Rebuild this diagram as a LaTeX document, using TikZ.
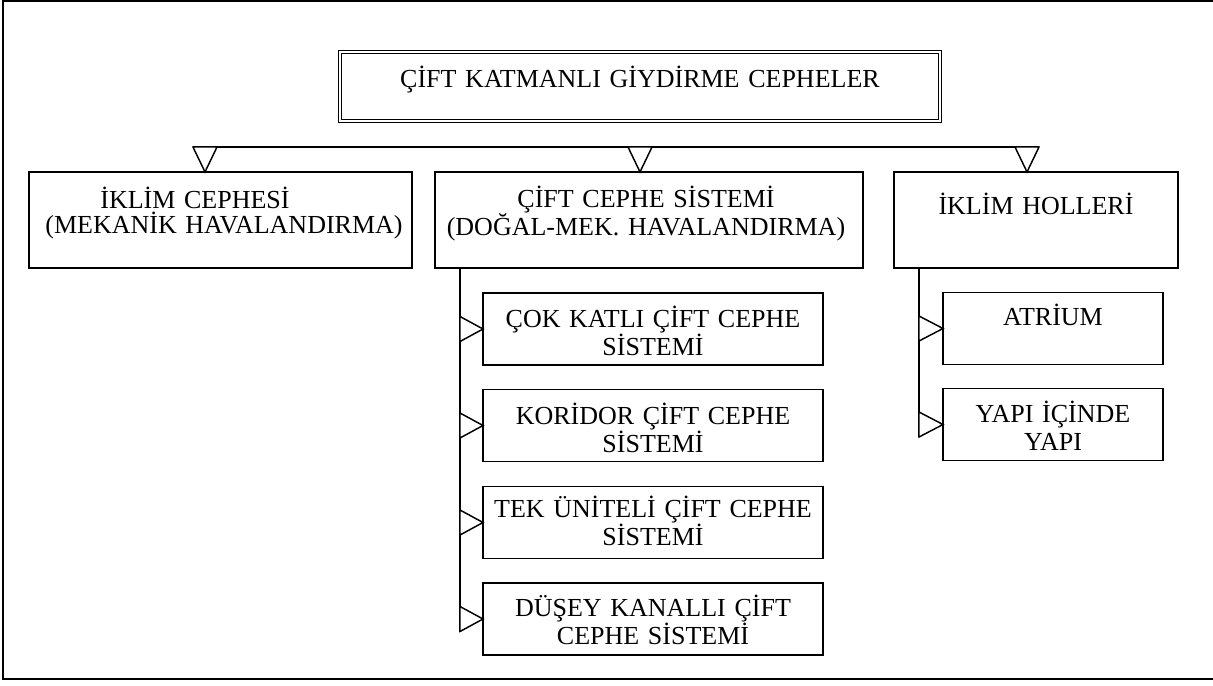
\documentclass[tikz,border=0pt]{standalone}
\usepackage{fontspec}
\setmainfont{Liberation Serif}
\usetikzlibrary{calc}
\begin{document}
\lineskiplimit=-50pt\relax
\begin{tikzpicture}[x=0.75pt,y=-0.75pt,
  box/.style={draw, line width=1.1pt, inner sep=0pt, outer sep=0pt},
  titlebox/.style={draw, line width=0.8pt, double, double distance=1.7pt, inner sep=0pt, outer sep=0pt,
    minimum width=449.7pt, minimum height=51.45pt},
  mainbox/.style={box, minimum height=72pt},
  subbox/.style={box, minimum height=54pt},
  tri/.style={draw, line width=1.1pt, fill=white, line join=miter},
  bus/.style={line width=1.1pt},
  lbl/.style={anchor=base, inner sep=0pt, outer sep=0pt, text width=#1, align=center,
    font=\fontsize{19.5pt}{18.75pt}\selectfont},
  sublbl/.style={lbl=#1, font=\fontsize{19.5pt}{21pt}\selectfont}
]
\useasboundingbox (0,0) rectangle (1213,685);
% outer frame
\draw[line width=1.1pt] (1214,1) -- (3,1) -- (3,679) -- (1214,679);

% boxes
\node[titlebox] (top) at (640,86.5) {};
\node[mainbox, minimum width=287.25pt] (b1) at (220.5,220) {};
\node[mainbox, minimum width=321pt] (b2) at (649,220) {};
\node[mainbox, minimum width=213pt] (b3) at (1036,220) {};

\node[subbox, minimum width=255pt] (sa) at (653,329) {};
\node[subbox, minimum width=255pt] (sb) at (653,425.5) {};
\node[subbox, minimum width=255pt] (sc) at (653,522.5) {};
\node[subbox, minimum width=255pt] (sd) at (653,619) {};

\node[subbox, minimum width=165pt] (se) at (1053,328.5) {};
\node[subbox, minimum width=165pt] (sf) at (1053,424.5) {};

% texts
\node[lbl=440pt] (t0) at ($(top.center)+(0,1.5)$) {ÇİFT KATMANLI GİYDİRME CEPHELER};
\node[lbl=280pt] (t1) at ($(b1.north)+(3.5,36)$) {İKLİM CEPHESİ\rule{43.5pt}{0pt}\\(MEKANİK HAVALANDIRMA)};
\node[lbl=310pt] (t2) at ($(b2.north)+(-3,35)$) {ÇİFT CEPHE SİSTEMİ\\(DOĞAL-MEK. HAVALANDIRMA)};
\node[lbl=200pt] (t3) at ($(b3.north)+(0,42)$) {İKLİM HOLLERİ};

\node[sublbl=250pt] (ta) at ($(sa.north)+(0,34)$) {ÇOK KATLI ÇİFT CEPHE\\SİSTEMİ};
\node[sublbl=250pt] (tb) at ($(sb.north)+(0,35)$) {KORİDOR ÇİFT CEPHE\\SİSTEMİ};
\node[sublbl=250pt] (tc) at ($(sc.north)+(0,31)$) {TEK ÜNİTELİ ÇİFT CEPHE\\SİSTEMİ};
\node[sublbl=250pt] (td) at ($(sd.north)+(0,33)$) {DÜŞEY KANALLI ÇİFT\\CEPHE SİSTEMİ};

\node[sublbl=160pt] (te) at ($(se.north)+(0,33)$) {ATRİUM};
\node[sublbl=160pt] (tf) at ($(sf.north)+(0,34)$) {YAPI İÇİNDE\\YAPI};

% bus with downward triangles
\coordinate (a1) at ($(b1.north)+(-15.5,0)$);
\coordinate (a2) at ($(b2.north)+(-9,0)$);
\coordinate (a3) at ($(b3.north)+(-9,0)$);
\draw[bus] ($(a1)+(-12,-25)$) -- ($(a3)+(12,-25)$);
\foreach \a in {a1,a2,a3}
  \draw[tri] (\a) -- ++(-12,-25) -- ++(24,0) -- cycle;

% column 2 spine
\coordinate (s2) at ($(b2.south west)+(25,0)$);
\coordinate (e2) at ($(sd.west)+(-23,12.5)$);
\draw[bus] (s2) -- (e2);
\foreach \n in {sa,sb,sc,sd}
  \draw[tri] (\n.west) -- ++(-23,-12.5) -- ++(0,25) -- cycle;

% column 3 spine
\coordinate (s3) at ($(b3.south west)+(25,0)$);
\coordinate (e3) at ($(sf.west)+(-24,12.5)$);
\draw[bus] (s3) -- (e3);
\foreach \n in {se,sf}
  \draw[tri] (\n.west) -- ++(-24,-12.5) -- ++(0,25) -- cycle;
\end{tikzpicture}
\end{document}
